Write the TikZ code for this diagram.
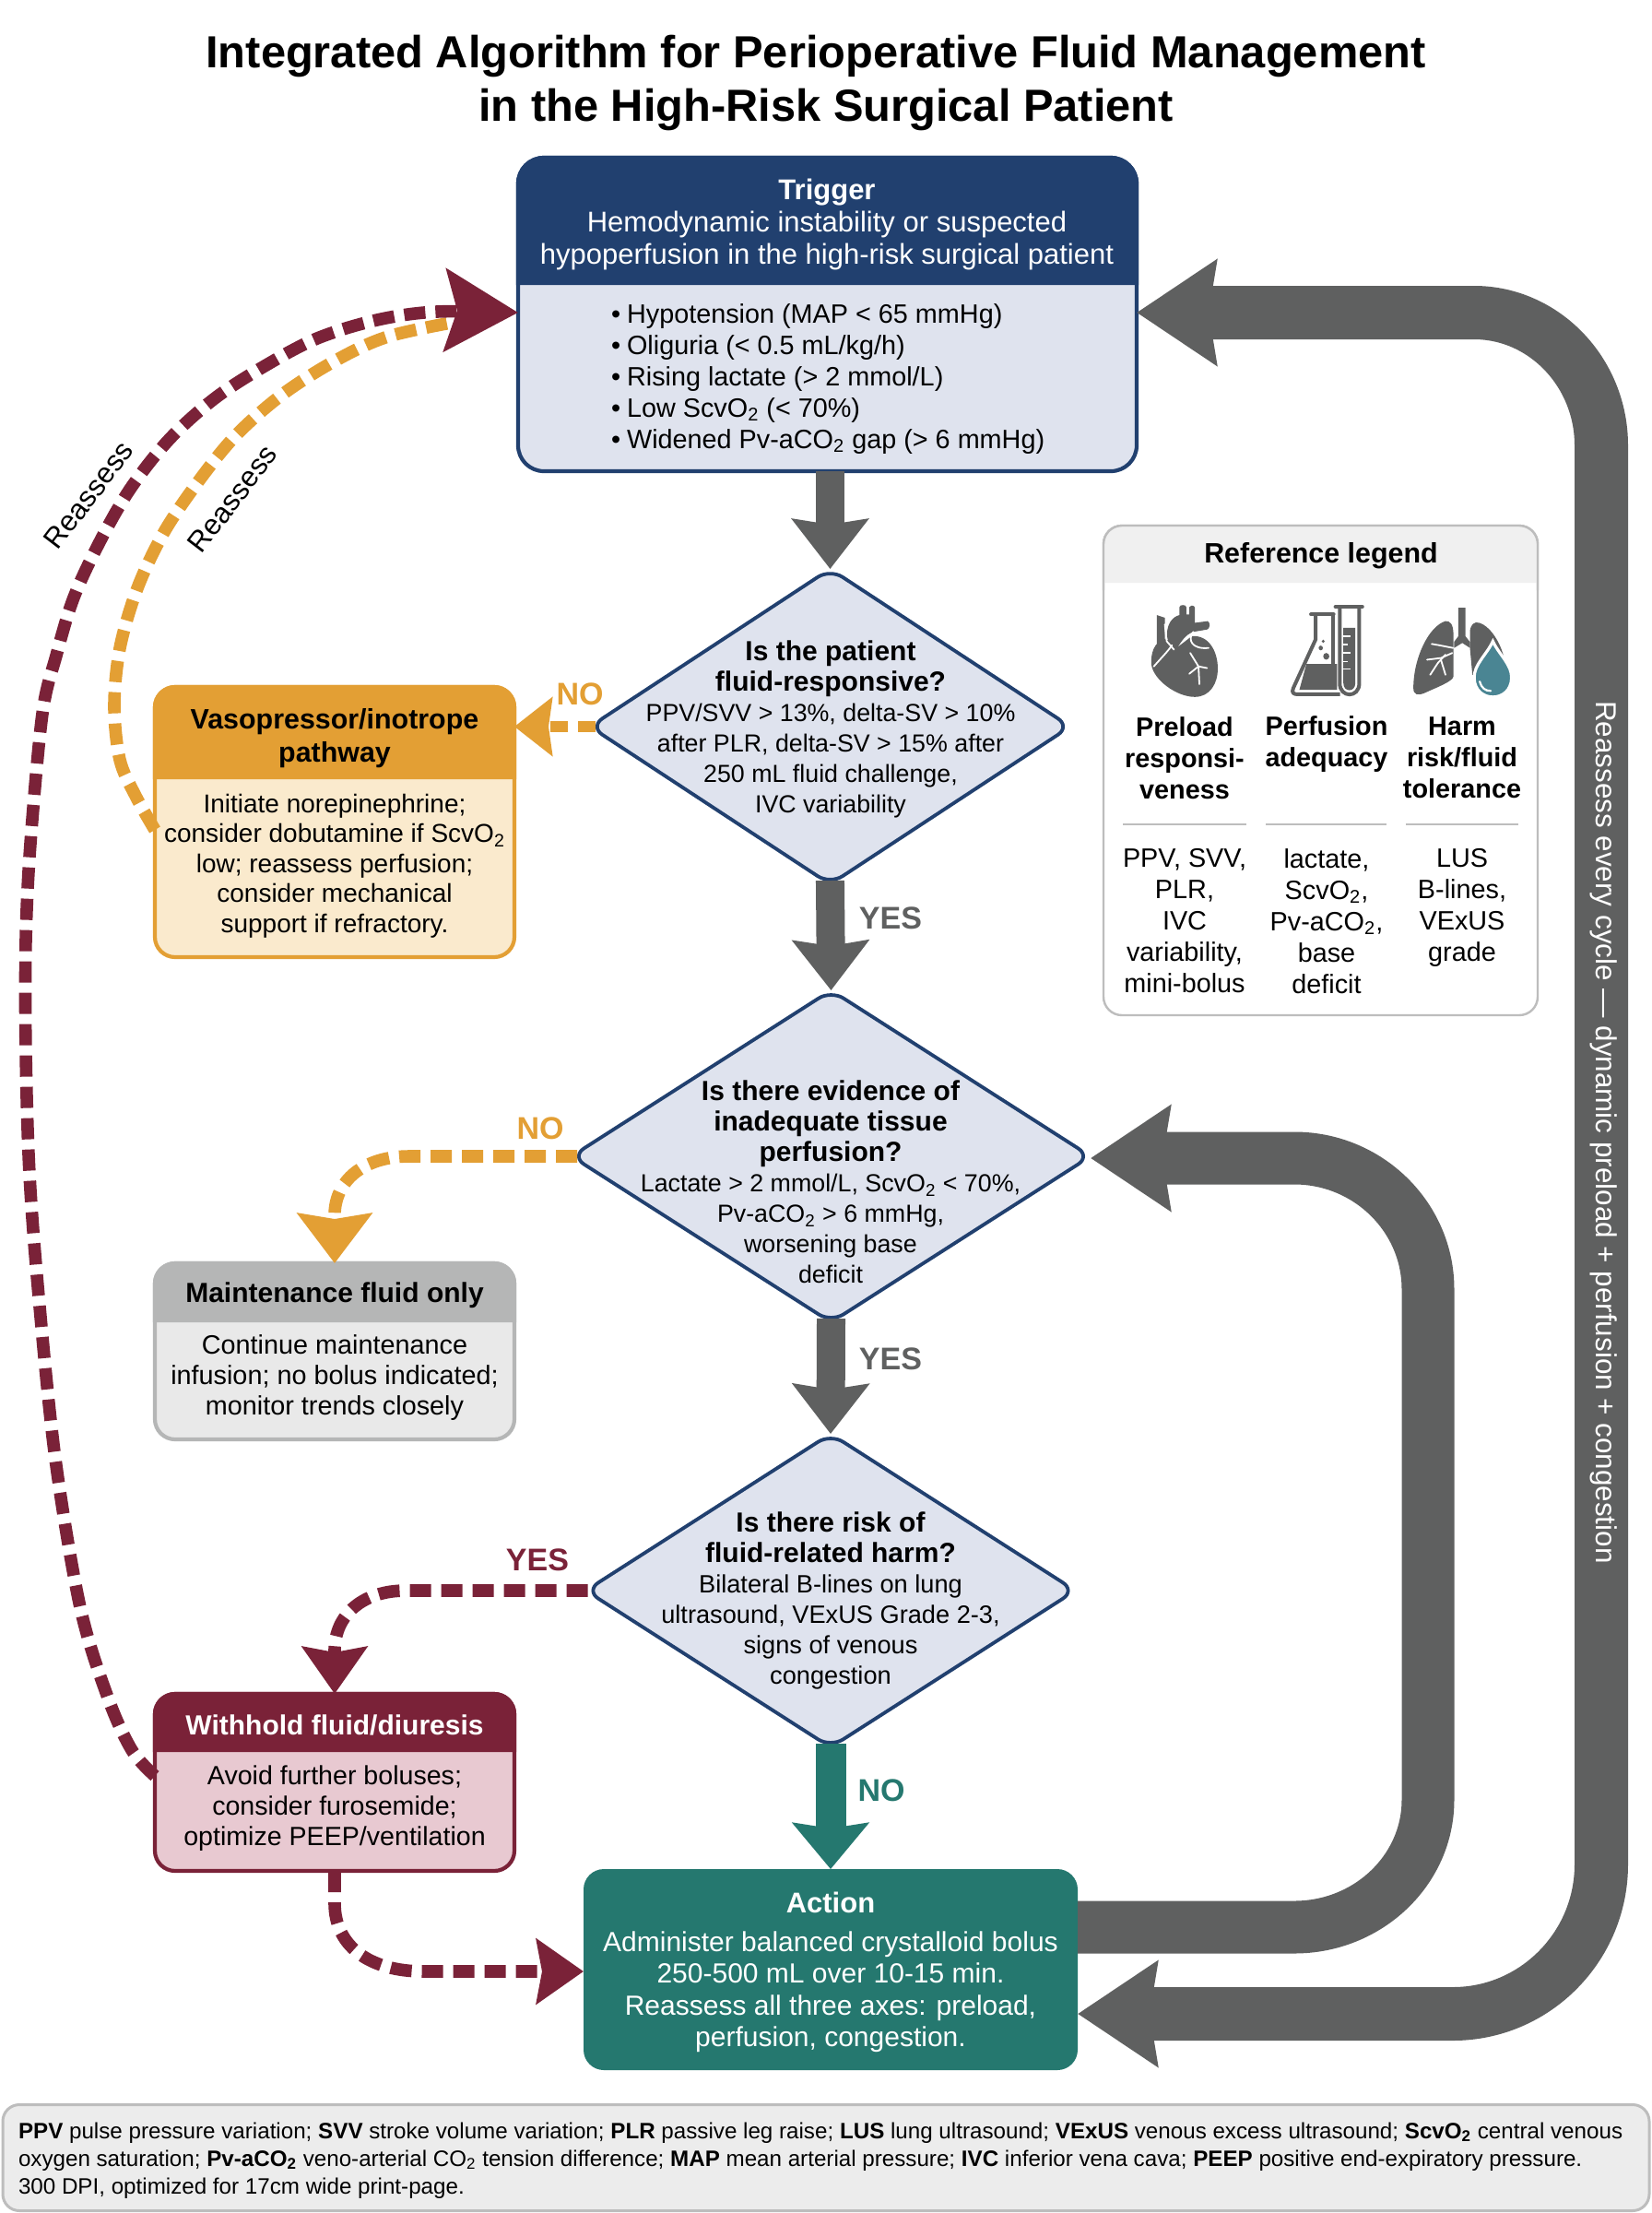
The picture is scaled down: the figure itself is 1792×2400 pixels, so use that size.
\documentclass[tikz,border=0pt]{standalone}
\usepackage{fontspec}
\setmainfont{Liberation Sans}
\usetikzlibrary{arrows.meta,shapes.geometric,calc}
\definecolor{navyc}{HTML}{21406F}
\definecolor{navyl}{HTML}{DFE3EE}
\definecolor{orangec}{HTML}{E39F34}
\definecolor{orangel}{HTML}{FAEACD}
\definecolor{redc}{HTML}{7A2238}
\definecolor{redl}{HTML}{E8C9D1}
\definecolor{tealc}{HTML}{25786F}
\definecolor{grayc}{HTML}{5F6060}
\definecolor{greyh}{HTML}{B5B6B6}
\definecolor{greyl}{HTML}{E9E9E9}
\definecolor{legc}{HTML}{BDBDBD}
\definecolor{dropc}{HTML}{4A8593}
\newcommand{\stwo}{\textsubscript{2}}
\newcommand{\fsz}[2]{\fontsize{#1}{#2}\selectfont}
\tikzset{
  txt/.style={align=center,inner sep=0pt,outer sep=0pt,text=black},
  body/.style={txt,font=\fsz{14.3}{16.4}},
  head/.style={txt,font=\fsz{15}{17.5}\bfseries},
  lab/.style={txt,font=\fsz{17}{20}\bfseries},
  leg/.style={txt,font=\fsz{14.4}{17}},
  legbold/.style={txt,font=\fsz{14.4}{17}\bfseries},
  dia/.style={diamond,draw=navyc,fill=navyl,line width=1.9pt,rounded corners=8pt,inner sep=0pt,outer sep=0pt},
  flow/.style={-{Stealth[length=27pt,width=41pt,inset=3pt]},line width=15.5pt,draw=grayc},
  loopa/.style={-{Stealth[length=43pt,width=56pt,inset=4pt]},line width=28.5pt,draw=grayc},
  loopb/.style={{Stealth[length=43pt,width=56pt,inset=4pt]}-{Stealth[length=43pt,width=56pt,inset=4pt]},line width=29pt,draw=grayc},
  dash1/.style={line width=6.8pt,dash pattern=on 11.5pt off 5.5pt},
  sep/.style={draw=legc,line width=0.9pt},
  icow/.style={draw=white,line width=0.9pt,line cap=round,line join=round},
}
\newcommand{\flowbox}[9]{%
  \node[rectangle,rounded corners=#9,draw=#7,fill=#8,line width=2.1pt,inner sep=0pt,outer sep=0pt,
    minimum width={(#4-#2)*0.5pt},minimum height={(#5-#3)*0.5pt}] (#1) at ({(#2+#4)/2},{(#3+#5)/2}) {};
  \path[fill=#7,draw=#7,line width=2.1pt,rounded corners=#9] (#2,#6) -- (#2,#3) -- (#4,#3) -- (#4,#6);
}
\begin{document}
\begin{tikzpicture}[x=0.5pt,y=-0.5pt]
\useasboundingbox (0,0) rectangle (1792,2400);
\fill[white] (0,0) rectangle (1792,2400);
% title
\node[txt,font=\fsz{24.4}{29.5}\bfseries] (title1) at (885,61) {Integrated Algorithm for Perioperative Fluid Management};
\node[txt,font=\fsz{24.4}{29.5}\bfseries] (title2) at (896,119) {in the High-Risk Surgical Patient};
% trigger
\flowbox{trigger}{562}{171}{1233}{511}{309}{navyc}{navyl}{14pt}
\node[txt,font=\fsz{15.5}{17.5},text=white] (trigh) at (897,243) {\textbf{Trigger}\\Hemodynamic instability or suspected\\hypoperfusion in the high-risk surgical patient};
\node[txt,align=left,font=\fsz{14.4}{17},anchor=west] (trigb) at (663,411) {•\hspace{3.5pt}Hypotension (MAP < 65 mmHg)\\•\hspace{3.5pt}Oliguria (< 0.5 mL/kg/h)\\•\hspace{3.5pt}Rising lactate (> 2 mmol/L)\\•\hspace{3.5pt}Low ScvO\stwo{} (< 70\%)\\•\hspace{3.5pt}Widened Pv-aCO\stwo{} gap (> 6 mmHg)};
% diamonds
\node[dia,minimum width=260.5pt,minimum height=171pt] (d1) at (900.5,788) {};
\node[txt,font=\fsz{13.4}{16.5}] (d1t) at (901,791) {{\fsz{15}{16.5}\bfseries Is the patient}\\{\fsz{15}{16.5}\bfseries fluid-responsive?}\\PPV/SVV > 13\%, delta-SV > 10\%\\after PLR, delta-SV > 15\% after\\250 mL fluid challenge,\\IVC variability};
\node[dia,minimum width=281.5pt,minimum height=180pt] (d2) at (901.5,1254) {};
\node[txt,font=\fsz{13.4}{16.5}] (d2t) at (901,1282) {{\fsz{15}{16.5}\bfseries Is there evidence of}\\{\fsz{15}{16.5}\bfseries inadequate tissue}\\{\fsz{15}{16.5}\bfseries perfusion?}\\Lactate > 2 mmol/L, ScvO\stwo{} < 70\%,\\Pv-aCO\stwo{} > 6 mmHg,\\worsening base\\deficit};
\node[dia,minimum width=265.5pt,minimum height=170pt] (d3) at (901,1725) {};
\node[txt,font=\fsz{13.6}{16.5}] (d3t) at (901,1736) {{\fsz{15}{16.5}\bfseries Is there risk of}\\{\fsz{15}{16.5}\bfseries fluid-related harm?}\\Bilateral B-lines on lung\\ultrasound, VExUS Grade 2-3,\\signs of venous\\congestion};
% side boxes
\flowbox{vaso}{168}{745}{558}{1038}{845}{orangec}{orangel}{11pt}
\node[txt,font=\fsz{15.2}{18}\bfseries] (vasoh) at (363,801) {Vasopressor/inotrope\\pathway};
\node[txt,font=\fsz{14}{16.2}] (vasob) at (363,939) {Initiate norepinephrine;\\consider dobutamine if ScvO\stwo\\low; reassess perfusion;\\consider mechanical\\support if refractory.};
\flowbox{maint}{168}{1370}{558}{1561}{1434}{greyh}{greyl}{11pt}
\node[head] (mainth) at (363,1405) {Maintenance fluid only};
\node[txt,font=\fsz{14.4}{16.5}] (maintb) at (363,1494) {Continue maintenance\\infusion; no bolus indicated;\\monitor trends closely};
\flowbox{withhold}{168}{1837}{558}{2029}{1900}{redc}{redl}{11pt}
\node[head,text=white] (withh) at (363,1871) {Withhold fluid/diuresis};
\node[body] (withb) at (363,1961) {Avoid further boluses;\\consider furosemide;\\optimize PEEP/ventilation};
% action
\node[rectangle,rounded corners=11pt,fill=tealc,inner sep=0pt,outer sep=0pt,minimum width=268pt,minimum height=109pt] (action) at (901,2136) {};
\node[txt,text=white,font=\fsz{15.5}{17}\bfseries] (actionh) at (901,2063) {Action};
\node[txt,text=white,font=\fsz{15}{17.25}] (actiont) at (901,2160) {Administer balanced crystalloid bolus\\250-500 mL over 10-15 min.\\Reassess all three axes: preload,\\perfusion, congestion.};
% legend
\node[rectangle,rounded corners=10pt,draw=legc,fill=white,line width=1.2pt,inner sep=0pt,outer sep=0pt,minimum width=235.5pt,minimum height=265.5pt] (legend) at (1432.5,835.5) {};
\path[fill=greyl!70!white,rounded corners=10pt] (1198,632) -- (1198,571) -- (1667,571) -- (1667,632);
\draw[draw=legc,line width=1.2pt,rounded corners=10pt] (1197,640) -- (1197,570) -- (1668,570) -- (1668,640);
\node[txt,font=\fsz{15.2}{17}\bfseries] (legt) at (1433,603) {Reference legend};
\node[legbold] (l1b) at (1285,822) {Preload\\responsi-\\veness};
\node[legbold] (l2b) at (1439,807) {Perfusion\\adequacy};
\node[legbold] (l3b) at (1586,822) {Harm\\risk/fluid\\tolerance};
\draw[sep] (1218,894) -- (1352,894);
\draw[sep] (1373,894) -- (1504,894);
\draw[sep] (1525,894) -- (1647,894);
\node[leg] (l1) at (1285,999) {PPV, SVV,\\PLR,\\IVC\\variability,\\mini-bolus};
\node[leg] (l2) at (1439,999) {lactate,\\ScvO\stwo,\\Pv-aCO\stwo,\\base\\deficit};
\node[leg] (l3) at (1586,984) {LUS\\B-lines,\\VExUS\\grade};
% icons
\begin{scope}[shift={(1180,550)},x=0.1658pt,y=-0.1818pt]
  % heart
  \fill[grayc] (255,392) .. controls (215,400) and (205,440) .. (208,470) .. controls (215,515) and (290,566) .. (350,566) .. controls (400,566) and (426,525) .. (425,480) .. controls (425,430) and (395,380) .. (340,385) -- (290,420) -- cycle;
  \fill[grayc] (226,322) -- (252,330) -- (252,395) -- (226,410) -- cycle;
  \fill[grayc] (262,400) .. controls (250,350) and (280,325) .. (300,322) -- (300,298) .. controls (300,290) and (322,290) .. (322,298) -- (322,320) -- (332,320) -- (332,298) .. controls (340,290) and (350,295) .. (350,300) -- (350,345) -- (392,340) .. controls (402,345) and (400,362) .. (390,365) -- (345,372) .. controls (320,380) and (305,400) .. (290,425) -- cycle;
  \draw[icow] (216,475) .. controls (240,450) and (262,430) .. (275,412);
  \draw[icow] (252,350) -- (258,400) -- (282,425);
  \draw[icow] (345,372) .. controls (325,395) and (340,425) .. (395,420);
  \draw[icow] (365,528) -- (362,475) -- (335,435);
  \draw[icow] (362,475) -- (332,497);
  \draw[icow] (362,475) -- (390,480);
  % flask
  \draw[grayc,line width=2pt,line join=round,line cap=round] (730,320) -- (804,320);
  \draw[grayc,line width=2pt,line join=round] (745,320) -- (745,395) -- (672,540) .. controls (665,555) and (675,558) .. (685,558) -- (825,558);
  \draw[grayc,line width=2pt] (803,320) -- (803,470);
  \fill[grayc] (715,468) -- (815,468) -- (815,545) -- (692,545) -- cycle;
  \fill[grayc] (770,400) circle[x radius=5,y radius=5];
  \fill[grayc] (780,445) circle[x radius=10,y radius=10];
  \fill[grayc] (762,420) circle[x radius=7,y radius=7];
  % tube
  \draw[grayc,line width=2pt,line cap=round] (810,297) -- (898,297);
  \draw[grayc,line width=2pt,line join=round] (824,297) -- (824,525) .. controls (824,570) and (888,570) .. (888,525) -- (888,297);
  \fill[grayc] (836,360) -- (875,360) -- (875,525) .. controls (875,553) and (836,553) .. (836,525) -- cycle;
  \foreach \yy/\ww in {385/860,410/850,435/860,460/850,483/860}{\draw[white,line width=0.7pt] (836,\yy) -- (\ww,\yy);}
  % lungs
  \fill[grayc] (1212,300) -- (1235,300) -- (1235,385) -- (1250,402) -- (1250,420) -- (1225,405) -- (1198,420) -- (1198,402) -- (1212,385) -- cycle;
  \fill[grayc] (1170,340) .. controls (1115,355) and (1065,450) .. (1065,540) .. controls (1065,560) and (1080,562) .. (1100,555) .. controls (1135,540) and (1195,520) .. (1196,505) -- (1196,380) .. controls (1196,350) and (1185,338) .. (1170,340) -- cycle;
  \fill[grayc] (1280,345) .. controls (1320,355) and (1365,420) .. (1368,490) -- (1258,500) -- (1250,420) -- (1250,370) .. controls (1252,350) and (1265,340) .. (1280,345) -- cycle;
  \draw[icow] (1195,420) -- (1150,412) -- (1125,408);
  \draw[icow] (1192,435) -- (1155,450) -- (1110,455);
  \draw[icow] (1170,440) -- (1145,465) -- (1120,500);
  \draw[icow] (1155,455) -- (1170,500);
  \draw[white,line width=1.6pt,fill=dropc] (1325,400) .. controls (1345,440) and (1388,470) .. (1386,510) .. controls (1384,585) and (1266,585) .. (1264,510) .. controls (1262,470) and (1305,440) .. (1325,400) -- cycle;
  \draw[white,line width=1.1pt,line cap=round] (1282,520) .. controls (1288,540) and (1300,548) .. (1318,548);
\end{scope}
% footer
\node[rectangle,rounded corners=9pt,draw=legc,fill=greyl!85!white,line width=1.5pt,inner sep=0pt,outer sep=0pt,minimum width=893pt,minimum height=57.5pt] (footer) at (896,2340) {};
\node[txt,align=left,anchor=west,font=\fsz{12.09}{15}] (foot) at (20,2343) {\textbf{PPV} pulse pressure variation; \textbf{SVV} stroke volume variation; \textbf{PLR} passive leg raise; \textbf{LUS} lung ultrasound; \textbf{VExUS} venous excess ultrasound; \textbf{ScvO\stwo} central venous\\oxygen saturation; \textbf{Pv-aCO\stwo} veno-arterial CO\stwo{} tension difference; \textbf{MAP} mean arterial pressure; \textbf{IVC} inferior vena cava; \textbf{PEEP} positive end-expiratory pressure.\\300 DPI, optimized for 17cm wide print-page.};
% straight flows
\draw[flow] (d1.north |- trigger.south) -- (d1.north);
\draw[flow,shorten <=-2pt] (d1.south) -- (d2.north);
\draw[flow,shorten <=-2pt] (d2.south) -- (d3.north);
\draw[flow,draw=tealc,-{Stealth[length=25pt,width=41pt,inset=3pt]},line width=16.5pt,shorten <=-2pt] (d3.south) -- (action.north);
\node[lab,text=grayc] (y1) at (966,996) {YES};
\node[lab,text=grayc] (y2) at (966,1474) {YES};
\node[lab,text=tealc] (n3) at (956,1942) {NO};
% side dashed
\draw[orangec,line width=6pt,dash pattern=on 9.5pt off 5.5pt,-{Stealth[length=20.5pt,width=31.5pt,inset=2pt]},shorten <=-3pt] (d1.west) -- (vaso.east |- d1.west);
\node[lab,text=orangec] (n1) at (629,753) {NO};
\draw[orangec,dash1,-{Stealth[length=27pt,width=40pt,inset=3pt]},shorten <=-3pt] (d2.west) -- (444,1254) .. controls (395,1254) and (363,1280) .. (363,1318) -- (maint.north);
\node[lab,text=orangec] (n2) at (586,1224) {NO};
\draw[redc,dash1,-{Stealth[length=25.5pt,width=35pt,inset=3pt]},shorten <=-1pt] (d3.west) -- (440,1725) .. controls (395,1725) and (363,1750) .. (363,1790) -- (withhold.north);
\node[lab,text=redc] (y3) at (583,1692) {YES};
\coordinate (wa) at (363,2064);
\coordinate (wb) at (460,2138);
\draw[redc,dash1,-{Stealth[length=25.5pt,width=35pt,inset=3pt]}] (withhold.south) -- (wa) .. controls (363,2110) and (400,2138) .. (wb) -- (action.west |- wb);
% reassess curves
\coordinate (os) at (vaso.west |- 0,900);
\draw[orangec,dash1] plot[smooth,tension=.55] coordinates {(os) (147,863) (130,824) (124,766) (130,703) (149,638) (178,577) (216,521) (256,472) (306,428) (364,391) (421,365) (500,348)};
\coordinate (rs) at (withhold.west |- 0,1926);
\coordinate (rt) at (trigger.west |- 0,339);
\draw[redc,dash1,-{Stealth[length=39.5pt,width=44.5pt,inset=6.5pt]}] plot[smooth,tension=.55] coordinates {(rs) (143,1898) (117,1841) (87,1743) (60,1582) (42,1406) (32,1273) (28,1140) (28,1020) (33,915) (46,774) (61,711) (80,648) (109,586) (142,529) (184,476) (233,432) (287,397) (344,367) (409,347) (474,338) (rt)};
\node[txt,rotate=52.6,font=\fsz{15.6}{20}] (re1) at (96,537) {Reassess};
\node[txt,rotate=52.6,font=\fsz{15.6}{20}] (re2) at (252,541) {Reassess};
% gray loops
\coordinate (ia) at (1404,2090);
\coordinate (ib) at (1549,1952);
\coordinate (ic) at (1549,1398);
\coordinate (id) at (1404,1256);
\draw[loopa] (action.east |- ia) -- (ia) .. controls (1484,2090) and (1549,2028) .. (ib) -- (ic) .. controls (1549,1320) and (1484,1256) .. (id) -- (d2.east |- id);
\coordinate (oa) at (1576,2184);
\coordinate (ob) at (1737,2022);
\coordinate (oc) at (1737,483);
\coordinate (od) at (1599,339);
\draw[loopb] (trigger.east |- od) -- (od) .. controls (1675,339) and (1737,404) .. (oc) -- (ob) .. controls (1737,2111) and (1665,2184) .. (oa) -- (action.east |- oa);
\node[txt,rotate=-90,text=white,font=\fsz{15.7}{18}] (cyc) at (1740,1228) {Reassess every cycle — dynamic preload + perfusion + congestion};
\end{tikzpicture}
\end{document}
